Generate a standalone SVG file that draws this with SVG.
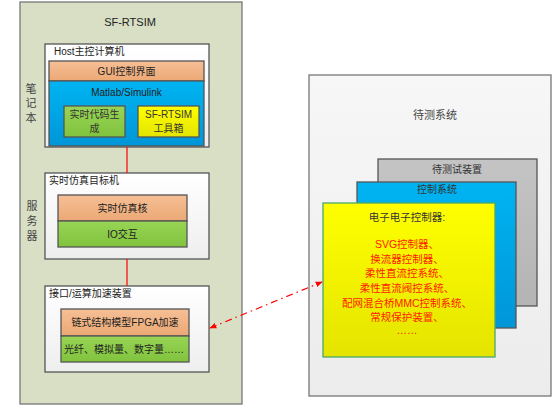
<svg xmlns="http://www.w3.org/2000/svg" width="553" height="407" viewBox="0 0 553 407">
<defs>
<linearGradient id="gWhite" x1="0" y1="0" x2="0" y2="1"><stop offset="0" stop-color="#ffffff"/><stop offset="1" stop-color="#eeeeee"/></linearGradient>
<linearGradient id="gOrange" x1="0" y1="0" x2="0" y2="1"><stop offset="0" stop-color="#f6bf96"/><stop offset="1" stop-color="#eba874"/></linearGradient>
<linearGradient id="gBlue" x1="0" y1="0" x2="0" y2="1"><stop offset="0" stop-color="#00b4f2"/><stop offset="1" stop-color="#0096d8"/></linearGradient>
<linearGradient id="gGreen" x1="0" y1="0" x2="0" y2="1"><stop offset="0" stop-color="#98d455"/><stop offset="1" stop-color="#80c33d"/></linearGradient>
<linearGradient id="gYellow" x1="0" y1="0" x2="0" y2="1"><stop offset="0" stop-color="#ffff00"/><stop offset="1" stop-color="#e4e400"/></linearGradient>
<linearGradient id="gGray" x1="0" y1="0" x2="0" y2="1"><stop offset="0" stop-color="#c4c4c4"/><stop offset="1" stop-color="#b4b4b4"/></linearGradient>
<linearGradient id="gRight" x1="0" y1="0" x2="0" y2="1"><stop offset="0" stop-color="#f7f7f7"/><stop offset="1" stop-color="#ececec"/></linearGradient>
<marker id="ah" viewBox="0 0 10 10" refX="9" refY="5" markerWidth="7" markerHeight="7" orient="auto-start-reverse" markerUnits="userSpaceOnUse">
<path d="M0,1 L10,5 L0,9 z" fill="#ff0000"/>
</marker>
</defs>
<style>
text{font-family:"Liberation Sans","Noto Sans CJK SC",sans-serif;font-size:10px;fill:#222;}
.c{text-anchor:middle;}
.box{stroke:#555;stroke-width:1.3;}
.lbl{font-size:10px;}
.red{fill:#ff1a00;font-size:10.5px;}
.conn{stroke:#ff0000;stroke-width:1.2;fill:none;}
</style>
<rect width="553" height="407" fill="#ffffff"/>

<g id="sf-rtsim">
<rect x="20" y="2" width="222" height="402" fill="#d8dfc4" stroke="#777" stroke-width="1.3"/>
<text x="130" y="26" class="c" style="font-size:11px">SF-RTSIM</text>
<text x="31" y="93" class="c" style="font-size:11px;fill:#444">笔</text>
<text x="31" y="107" class="c" style="font-size:11px;fill:#444">记</text>
<text x="31" y="122" class="c" style="font-size:11px;fill:#444">本</text>
<text x="32" y="210" class="c" style="font-size:11px;fill:#444">服</text>
<text x="32" y="225" class="c" style="font-size:11px;fill:#444">务</text>
<text x="32" y="240" class="c" style="font-size:11px;fill:#444">器</text>
</g>

<g id="host">
<rect x="45" y="44" width="164" height="103" fill="url(#gWhite)" class="box"/>
<text x="54" y="55" class="lbl">Host主控计算机</text>
</g>
<g id="gui">
<rect x="49" y="61" width="155" height="20" fill="url(#gOrange)" class="box"/>
<text x="126.5" y="75" class="c">GUI控制界面</text>
</g>
<g id="simulink">
<rect x="49" y="81" width="155" height="65" fill="url(#gBlue)" class="box"/>
<text x="126.5" y="96" class="c">Matlab/Simulink</text>
</g>
<g id="codegen">
<rect x="64" y="106" width="61" height="31" fill="url(#gGreen)" class="box"/>
<text x="94.5" y="118" class="c" style="fill:#333">实时代码生</text>
<text x="94.5" y="132" class="c" style="fill:#333">成</text>
</g>
<g id="toolbox">
<rect x="138" y="106" width="61" height="31" fill="url(#gYellow)" class="box"/>
<text x="168.5" y="118" class="c" style="fill:#333">SF-RTSIM</text>
<text x="168.5" y="132" class="c" style="fill:#333">工具箱</text>
</g>

<g id="target">
<rect x="45" y="173" width="164" height="86" fill="url(#gWhite)" class="box"/>
<text x="49" y="184" class="lbl">实时仿真目标机</text>
</g>
<g id="simcore">
<rect x="58" y="195" width="129" height="26" fill="url(#gOrange)" class="box"/>
<text x="122.5" y="212" class="c">实时仿真核</text>
</g>
<g id="io">
<rect x="58" y="221" width="129" height="26" fill="url(#gGreen)" class="box"/>
<text x="122.5" y="238" class="c">IO交互</text>
</g>

<g id="interface">
<rect x="45" y="286" width="164" height="86" fill="url(#gWhite)" class="box"/>
<text x="49" y="297" class="lbl">接口/运算加速装置</text>
</g>
<g id="fpga">
<rect x="61" y="309" width="128" height="27" fill="url(#gOrange)" class="box"/>
<text x="125" y="326" class="c">链式结构模型FPGA加速</text>
</g>
<g id="signals">
<rect x="61" y="336" width="128" height="26" fill="url(#gGreen)" class="box"/>
<text x="124" y="353" class="c">光纤、模拟量、数字量……</text>
</g>

<g id="dut-system">
<rect x="309" y="75" width="242" height="321" fill="url(#gRight)" stroke="#777" stroke-width="1.3"/>
<text x="435" y="119" class="c" style="font-size:11px;fill:#444">待测系统</text>
</g>
<g id="device">
<rect x="378" y="159" width="159" height="147" fill="url(#gGray)" class="box"/>
<text x="457" y="173" class="c" style="fill:#333">待测试装置</text>
</g>
<g id="control">
<rect x="357" y="182" width="159" height="146" fill="url(#gBlue)" class="box"/>
<text x="437" y="193" class="c" style="fill:#333">控制系统</text>
</g>
<g id="controller">
<rect x="323" y="203" width="172" height="154" fill="url(#gYellow)" stroke="#4aa86a" stroke-width="1.3"/>
<text x="407" y="221" class="c" style="font-size:10.5px;fill:#333">电子电子控制器:</text>
<text x="407" y="248" class="c red">SVG控制器、</text>
<text x="407" y="263" class="c red">换流器控制器、</text>
<text x="407" y="277" class="c red">柔性直流控系统、</text>
<text x="407" y="292" class="c red">柔性直流阀控系统、</text>
<text x="407" y="307" class="c red">配网混合桥MMC控制系统、</text>
<text x="407" y="321" class="c red">常规保护装置、</text>
<text x="407" y="334" class="c red">……</text>
</g>

<g id="connectors">
<line x1="127" y1="147" x2="127" y2="173" class="conn"/>
<line x1="127" y1="259" x2="127" y2="286" class="conn"/>
<line x1="210" y1="328" x2="322" y2="282" class="conn" stroke-dasharray="7,4,1.5,4" marker-start="url(#ah)" marker-end="url(#ah)"/>
</g>
</svg>
